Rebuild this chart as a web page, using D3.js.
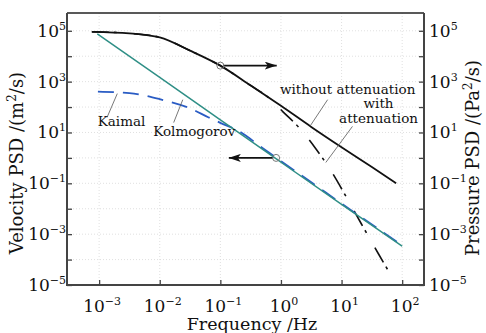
<!DOCTYPE html>
<html>
<head>
<meta charset="utf-8">
<script src="https://cdn.jsdelivr.net/npm/d3@7"></script>
<style>
  body { margin: 0; background: #fff; }
  svg { display: block; font-family: "DejaVu Serif", serif; }
</style>
</head>
<body>
<svg width="486" height="333"></svg>
<script>
// values, as log10(frequency) and log10(PSD)
const withoutAttLogF = [-3.12, -2.5, -2.0, -1.5, -1.0, -0.5, 0.0, 0.5, 1.0, 1.5, 1.9];
const withoutAttLogS = [4.96, 4.90, 4.74, 4.22, 3.63, 2.85, 2.05, 1.22, 0.42, -0.36, -1.0];

const withAttLogF = [-3.12, -2.5, -2.0, -1.5, -1.0, -0.5, -0.2, 0.03, 0.31, 0.56, 0.81, 1.09, 1.33, 1.61, 1.86];
const withAttLogS = [4.96, 4.90, 4.74, 4.22, 3.63, 2.85, 2.36, 1.82, 1.16, 0.41, -0.45, -1.59, -2.61, -3.78, -4.8];

const kolmogorovLogF = [-3.03, -2.0, -1.0, 0.0, 1.0, 2.0];
const kolmogorovLogS = [4.88, 3.17, 1.50, -0.17, -1.83, -3.47];

const kaimalLogF = [-3.02, -2.5, -2.0, -1.5, -1.2, -1.0, -0.7, -0.3, 0.0, 0.5, 1.0, 1.5, 2.0];
const kaimalLogS = [2.61, 2.55, 2.31, 1.95, 1.60, 1.38, 1.06, 0.38, -0.13, -0.96, -1.80, -2.62, -3.45];

const xTickExp = [-3, -2, -1, 0, 1, 2];
const yTickExp = [-5, -4, -3, -2, -1, 0, 1, 2, 3, 4, 5];
const yLabelExp = [-5, -3, -1, 1, 3, 5];

const svg = d3.select('svg');
const margin = { top: 13, right: 62, bottom: 48, left: 67 };
const width = 486, height = 333;

const x = d3.scaleLog()
    .domain([Math.pow(10, -3.53), Math.pow(10, 2.36)])
    .range([margin.left, width - margin.right]);
const y = d3.scaleLog()
    .domain([1e-5, Math.pow(10, 5.7)])
    .range([height - margin.bottom, margin.top]);

const p = (lf, ls) => [x(Math.pow(10, lf)), y(Math.pow(10, ls))];
const toPts = (fs, ss) => fs.map((f, i) => [Math.pow(10, f), Math.pow(10, ss[i])]);

const x0 = margin.left, x1 = width - margin.right;
const y0 = height - margin.bottom, y1 = margin.top;

// grid
const grid = svg.append('g').attr('stroke', '#d8d8d8').attr('stroke-width', 0.8).attr('stroke-dasharray', '1,2');
grid.selectAll('.gx').data(xTickExp).enter().append('line')
    .attr('x1', d => x(Math.pow(10, d))).attr('x2', d => x(Math.pow(10, d)))
    .attr('y1', y1).attr('y2', y0);
grid.selectAll('.gy').data(yTickExp).enter().append('line')
    .attr('y1', d => y(Math.pow(10, d))).attr('y2', d => y(Math.pow(10, d)))
    .attr('x1', x0).attr('x2', x1);

// curves
const line = d3.line().x(d => x(d[0])).y(d => y(d[1])).curve(d3.curveMonotoneX);

svg.append('path').datum(toPts(withAttLogF, withAttLogS))
    .attr('d', line).attr('fill', 'none').attr('stroke', '#111')
    .attr('stroke-width', 1.6).attr('stroke-dasharray', '17,5,3,17');

svg.append('path').datum(toPts(withoutAttLogF, withoutAttLogS))
    .attr('d', line).attr('fill', 'none').attr('stroke', '#111').attr('stroke-width', 1.8);

svg.append('path').datum(toPts(kaimalLogF, kaimalLogS))
    .attr('d', line).attr('fill', 'none').attr('stroke', '#2a5cc4')
    .attr('stroke-width', 1.8).attr('stroke-dasharray', '16,9');

svg.append('path').datum(toPts(kolmogorovLogF, kolmogorovLogS))
    .attr('d', line).attr('fill', 'none').attr('stroke', '#2f8f86').attr('stroke-width', 1.5);

// arrows with open circles
const defs = svg.append('defs');
defs.append('marker').attr('id', 'head').attr('viewBox', '0 0 12 8')
    .attr('refX', 12).attr('refY', 4).attr('markerWidth', 12).attr('markerHeight', 8)
    .attr('markerUnits', 'userSpaceOnUse').attr('orient', 'auto')
    .append('path').attr('d', 'M0,0 L12,4 L0,8 L3,4 Z').attr('fill', '#111');

const arrows = [
  { from: [-1.0, 3.63], toLogF: -0.07 },
  { from: [-0.08, 0.0], toLogF: -0.86 }
];
arrows.forEach(a => {
  const [cx, cy] = p(a.from[0], a.from[1]);
  const tx = x(Math.pow(10, a.toLogF));
  svg.append('line').attr('x1', cx + (tx > cx ? 3 : -3)).attr('y1', cy)
      .attr('x2', tx).attr('y2', cy)
      .attr('stroke', '#111').attr('stroke-width', 1.6).attr('marker-end', 'url(#head)');
  svg.append('circle').attr('cx', cx).attr('cy', cy).attr('r', 3.5)
      .attr('fill', 'none').attr('stroke', '#777').attr('stroke-width', 1);
});

// annotations: leader lines (log coords) and labels
const leaders = [
  [[-2.70, 2.53], [-2.87, 1.59]],
  [[-1.62, 2.29], [-1.77, 1.39]],
  [[0.77, 2.29], [0.48, 1.25]],
  [[1.18, 1.24], [0.74, -0.18]]
];
svg.append('g').selectAll('line').data(leaders).enter().append('line')
    .attr('x1', d => p(...d[0])[0]).attr('y1', d => p(...d[0])[1])
    .attr('x2', d => p(...d[1])[0]).attr('y2', d => p(...d[1])[1])
    .attr('stroke', '#555').attr('stroke-width', 0.8);

const labels = [
  { t: 'Kaimal', lf: -2.63, ls: 1.25 },
  { t: 'Kolmogorov', lf: -1.43, ls: 0.85 },
  { t: 'without attenuation', lf: 1.10, ls: 2.52 },
  { t: 'with', lf: 1.61, ls: 1.97 },
  { t: 'attenuation', lf: 1.61, ls: 1.37 }
];
svg.append('g').selectAll('text').data(labels).enter().append('text')
    .attr('x', d => p(d.lf, d.ls)[0]).attr('y', d => p(d.lf, d.ls)[1])
    .attr('text-anchor', 'middle').attr('font-size', 13.5).attr('fill', '#111')
    .text(d => d.t);

// axes
const axisColor = '#444';
const tickVals = yTickExp.map(e => Math.pow(10, e));
const styleAxis = g => {
  g.select('.domain').remove();
  g.selectAll('.tick line').attr('stroke', axisColor).attr('stroke-width', 1.3);
  g.selectAll('.tick text').remove();
};
svg.append('g').attr('transform', `translate(${x0},0)`)
    .call(d3.axisLeft(y).tickValues(tickVals).tickSizeInner(-5).tickSizeOuter(0)).call(styleAxis);
svg.append('g').attr('transform', `translate(${x1},0)`)
    .call(d3.axisRight(y).tickValues(tickVals).tickSizeInner(-5).tickSizeOuter(0)).call(styleAxis);
svg.append('g').attr('transform', `translate(0,${y0})`)
    .call(d3.axisBottom(x).tickValues(xTickExp.map(e => Math.pow(10, e))).tickSizeInner(-5).tickSizeOuter(0)).call(styleAxis);

// frame
svg.append('line').attr('x1', x0).attr('x2', x1).attr('y1', y1).attr('y2', y1)
    .attr('stroke', '#222').attr('stroke-width', 1.5);
svg.append('path').attr('d', `M${x0},${y1} V${y0} H${x1} V${y1}`)
    .attr('fill', 'none').attr('stroke', axisColor).attr('stroke-width', 2);

// tick labels with superscripts
const pow10 = (sel, e) => {
  sel.append('tspan').text('10');
  sel.append('tspan').attr('font-size', 11).attr('dy', -7)
     .text(e < 0 ? '\u2212' + (-e) : String(e));
};
yLabelExp.forEach(e => {
  const yy = y(Math.pow(10, e)) + 6;
  svg.append('text').attr('x', x0 - 1).attr('y', yy).attr('text-anchor', 'end')
     .attr('font-size', 17).attr('fill', '#111').call(pow10, e);
  svg.append('text').attr('x', x1 + 5).attr('y', yy).attr('text-anchor', 'start')
     .attr('font-size', 17).attr('fill', '#111').call(pow10, e);
});
xTickExp.forEach(e => {
  svg.append('text').attr('x', x(Math.pow(10, e)) + 3).attr('y', y0 + 27).attr('text-anchor', 'middle')
     .attr('font-size', 17).attr('fill', '#111').call(pow10, e);
});

// axis titles
svg.append('text').attr('x', 252).attr('y', 330).attr('text-anchor', 'middle')
    .attr('font-size', 17.5).attr('fill', '#111').text('Frequency /Hz');

const yTitle = (sel, unit) => {
  sel.append('tspan').text(unit[0]);
  sel.append('tspan').attr('font-size', 12).attr('dy', -7).text('2');
  sel.append('tspan').attr('dy', 7).text('/s)');
};
svg.append('text').attr('transform', 'translate(23,163) rotate(-90)')
    .attr('text-anchor', 'middle').attr('font-size', 18).attr('fill', '#111')
    .call(yTitle, ['Velocity PSD /(m']);
svg.append('text').attr('transform', 'translate(479,158) rotate(-90)')
    .attr('text-anchor', 'middle').attr('font-size', 18).attr('fill', '#111')
    .call(yTitle, ['Pressure PSD /(Pa']);
</script>
</body>
</html>
